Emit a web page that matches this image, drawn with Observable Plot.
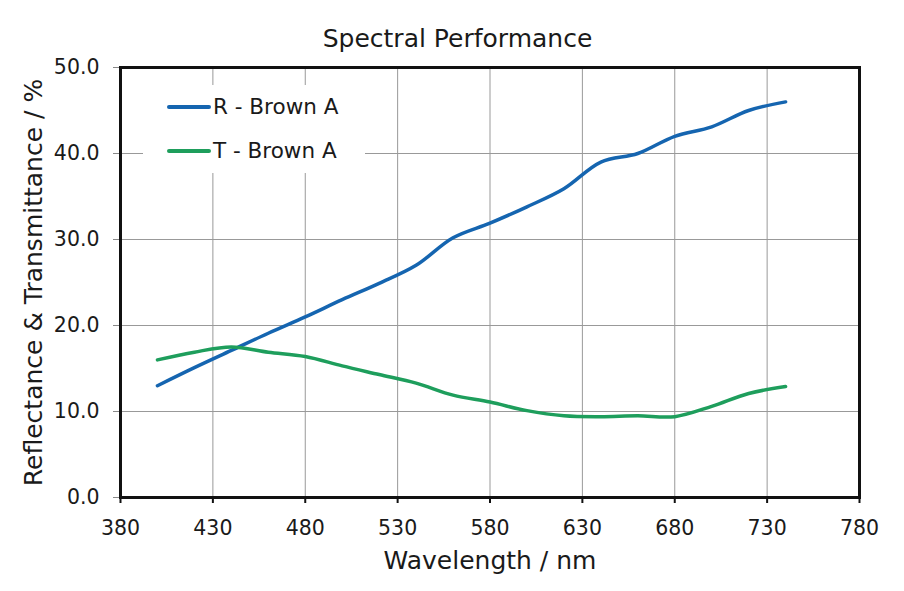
<!DOCTYPE html>
<html><head><meta charset="utf-8">
<script src="https://cdn.jsdelivr.net/npm/d3@7"></script>
<script src="https://cdn.jsdelivr.net/npm/@observablehq/plot@0.6"></script>
<style>
body{margin:0;background:#fff;font-family:"DejaVu Sans",Verdana,sans-serif;}
#wrap{position:relative;width:904px;height:591px;overflow:hidden;}
#title{position:absolute;left:0;width:915px;top:24px;text-align:center;font-size:25px;color:#1a1a1a;line-height:30px;}
#legend{position:absolute;left:143px;top:85px;width:222px;height:88px;background:#fff;}
.row{position:absolute;left:0;height:30px;width:222px;}
.sw{position:absolute;left:24px;width:44px;height:3.5px;border-radius:2px;top:13px;}
.lb{position:absolute;left:70px;top:0;font-size:21.5px;line-height:30px;color:#1a1a1a;white-space:nowrap;}
</style></head><body>
<div id="wrap"><div id="chart"></div><div id="title">Spectral Performance</div><div id="legend"></div></div>
<script>
const wavelengths   = [400,420,440,460,480,500,520,540,560,580,600,620,640,660,680,700,720,740];
const reflectance   = [13.0,15.1,17.1,19.1,21.0,23.0,24.9,27.0,30.2,31.9,33.8,35.9,39.0,40.0,42.0,43.1,45.0,46.0];
const transmittance = [16.0,16.9,17.5,16.9,16.4,15.3,14.3,13.3,11.9,11.1,10.1,9.5,9.4,9.5,9.4,10.6,12.1,12.9];
const seriesNames   = ["R - Brown A","T - Brown A"];
const seriesColors  = ["#1565b0","#1e9e5c"];
const xTicks = [380,430,480,530,580,630,680,730,780];
const yTicks = [0,10,20,30,40,50];
const xLabel = "Wavelength / nm";
const yLabel = "Reflectance & Transmittance / %";

const rows = [];
wavelengths.forEach((w,i)=>{
  rows.push({w, v: reflectance[i], s: seriesNames[0]});
  rows.push({w, v: transmittance[i], s: seriesNames[1]});
});

const chart = Plot.plot({
  width: 904, height: 591,
  marginLeft: 120, marginRight: 45, marginTop: 67, marginBottom: 94,
  style: {fontFamily: '"DejaVu Sans",Verdana,sans-serif', color: "#1a1a1a", background: "#fff"},
  x: {domain: [380,780]},
  y: {domain: [0,50]},
  color: {domain: seriesNames, range: seriesColors},
  marks: [
    Plot.gridX(xTicks, {stroke: "#999", strokeOpacity: 1, strokeWidth: 1}),
    Plot.gridY(yTicks, {stroke: "#999", strokeOpacity: 1, strokeWidth: 1}),
    Plot.axisX({ticks: xTicks, tickSize: 6, tickPadding: 17, fontSize: 20.5, label: null, stroke: "#111", strokeWidth: 2}),
    Plot.axisY({ticks: yTicks, tickSize: 7, tickPadding: 14, fontSize: 20.5, label: null, tickFormat: d => d.toFixed(1), stroke: "#888"}),
    Plot.line(rows, {x: "w", y: "v", z: "s", stroke: "s", strokeWidth: 3.5, curve: "catmull-rom"}),
    Plot.frame({stroke: "#111", strokeWidth: 3}),
    Plot.text([xLabel], {frameAnchor: "bottom", dy: 71, fontSize: 25, fill: "#1a1a1a", textAnchor: "middle"}),
    Plot.text([yLabel], {frameAnchor: "left", dx: -87, rotate: -90, fontSize: 25, fill: "#1a1a1a", textAnchor: "middle"})
  ]
});
document.getElementById("chart").appendChild(chart);

const leg = document.getElementById("legend");
seriesNames.forEach((n,i)=>{
  const r = document.createElement("div");
  r.className = "row";
  r.style.top = (7 + i*44) + "px";
  r.innerHTML = `<div class="sw" style="background:${seriesColors[i]}"></div><div class="lb">${n}</div>`;
  leg.appendChild(r);
});
</script>
</body></html>
